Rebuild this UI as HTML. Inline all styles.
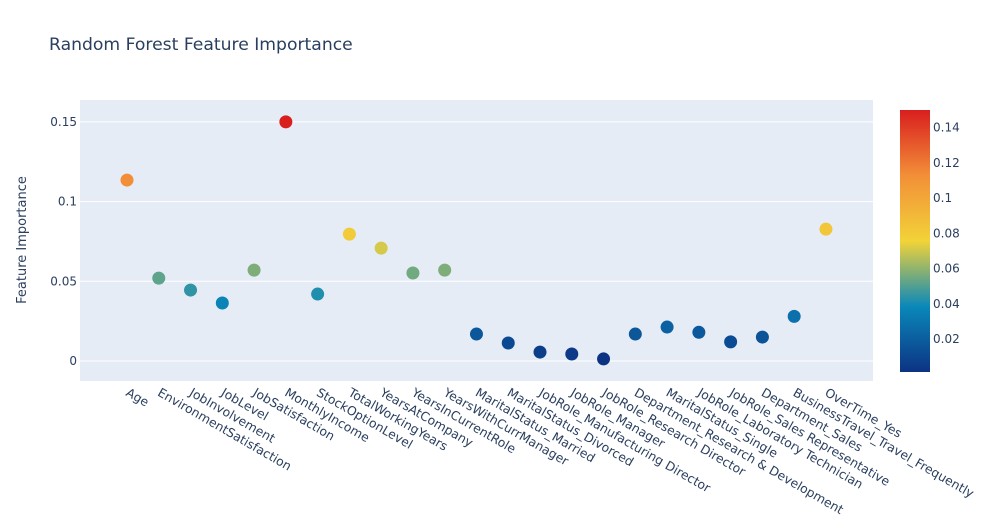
<!DOCTYPE html>
<html><head><meta charset="utf-8"><style>
body{margin:0;background:#fff;font-family:"DejaVu Sans",Verdana,sans-serif}
svg text{fill:#2a3f5f;font-family:"DejaVu Sans",Verdana,sans-serif}
</style></head><body>
<svg id="c" width="985" height="525">
<defs><linearGradient id="g" x1="0" y1="1" x2="0" y2="0">
<stop offset="0" stop-color="rgb(12,51,131)"/><stop offset="0.25" stop-color="rgb(10,136,186)"/>
<stop offset="0.5" stop-color="rgb(242,211,56)"/><stop offset="0.75" stop-color="rgb(242,143,56)"/>
<stop offset="1" stop-color="rgb(217,30,30)"/></linearGradient></defs>
<text x="49" y="50" font-size="17.2">Random Forest Feature Importance</text>
<rect x="80" y="100" width="793" height="281" fill="#e5ecf6"/>
<g id="grid"></g><g id="pts"></g><g id="xl"></g>
<text transform="translate(26,240) rotate(-90)" text-anchor="middle" font-size="13">Feature Importance</text>
<rect x="900" y="110" width="30" height="262" fill="url(#g)"/>
<g id="cb"></g>
</svg>
<script>
const categories=["Age","EnvironmentSatisfaction","JobInvolvement","JobLevel","JobSatisfaction","MonthlyIncome","StockOptionLevel","TotalWorkingYears","YearsAtCompany","YearsInCurrentRole","YearsWithCurrManager","MaritalStatus_Married","MaritalStatus_Divorced","JobRole_Manufacturing Director","JobRole_Manager","JobRole_Research Director","Department_Research & Development","MaritalStatus_Single","JobRole_Laboratory Technician","JobRole_Sales Representative","Department_Sales","BusinessTravel_Travel_Frequently","OverTime_Yes"];
const importance=[0.1135,0.052,0.0445,0.0364,0.057,0.150,0.042,0.0796,0.0708,0.0552,0.057,0.0169,0.0113,0.0056,0.0044,0.0013,0.0169,0.0213,0.018,0.012,0.015,0.028,0.0827];
const yTicks=[0,0.05,0.1,0.15];
const yTickLabels=["0","0.05","0.1","0.15"];
const cbTicks=[0.02,0.04,0.06,0.08,0.1,0.12,0.14];
const cbTickLabels=["0.02","0.04","0.06","0.08","0.1","0.12","0.14"];
const NS="http://www.w3.org/2000/svg";
const y=v=>361-v*1594;
const x=i=>127+i*31.77;
const cmin=Math.min(...importance),cmax=Math.max(...importance);
const cy=v=>372-(v-cmin)/(cmax-cmin)*262;
const stops=[[0,[12,51,131]],[0.25,[10,136,186]],[0.5,[242,211,56]],[0.75,[242,143,56]],[1,[217,30,30]]];
function col(v){let t=(v-cmin)/(cmax-cmin);t=Math.max(0,Math.min(1,t));
for(let k=1;k<stops.length;k++){if(t<=stops[k][0]){const a=stops[k-1],b=stops[k],f=(t-a[0])/(b[0]-a[0]);
return"rgb("+a[1].map((c,j)=>Math.round(c+(b[1][j]-c)*f)).join(",")+")";}}return"rgb(217,30,30)";}
function mk(tag,attrs,par,txt){const e=document.createElementNS(NS,tag);for(const k in attrs)e.setAttribute(k,attrs[k]);if(txt!==undefined)e.textContent=txt;document.getElementById(par).appendChild(e);return e;}
yTicks.forEach((t,i)=>{
const l=mk("line",{x1:80,x2:873,y1:y(t),y2:y(t),stroke:"#fff","stroke-width":1},"grid");


const tx=mk("text",{x:77,y:y(t)+4,"text-anchor":"end","font-size":12},"grid",yTickLabels[i]);


});
categories.forEach((c,i)=>{
const p=mk("circle",{cx:x(i),cy:y(importance[i]),r:6.5,fill:col(importance[i])},"pts");


const t=mk("text",{transform:"translate("+(x(i)-2)+",395) rotate(30)","font-size":12.4},"xl",c);


});
cbTicks.forEach((t,i)=>{
const tx=mk("text",{x:933,y:cy(t)+4,"font-size":12},"cb",cbTickLabels[i]);


});
</script>
</body></html>
